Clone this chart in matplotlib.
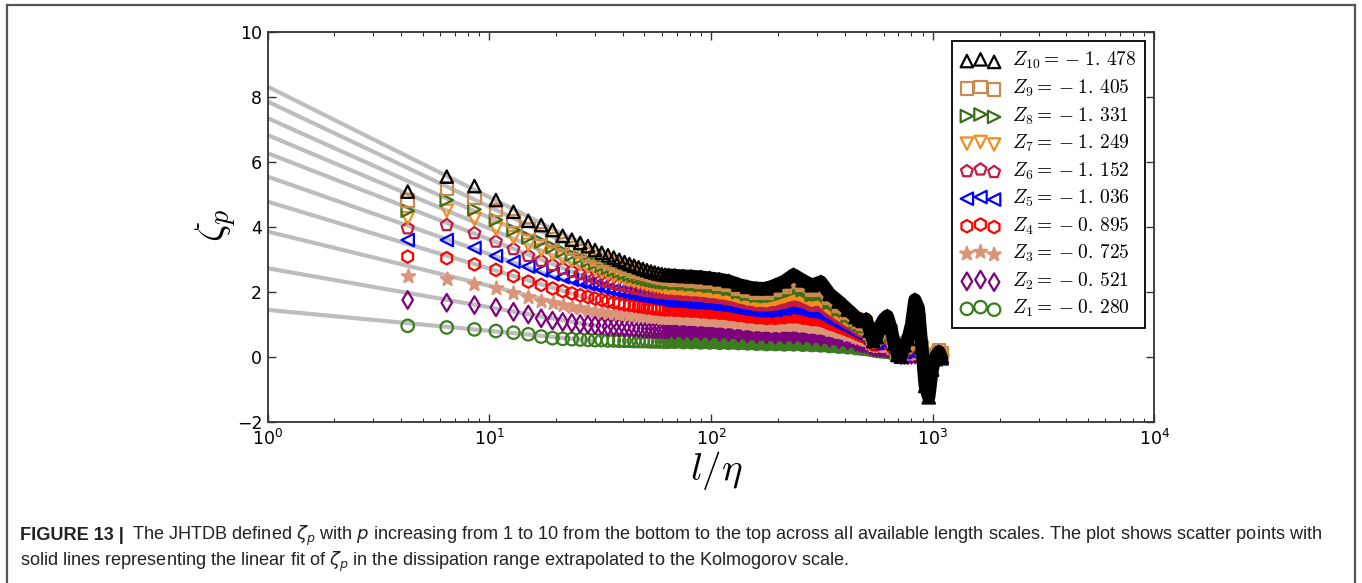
import numpy as np
import matplotlib
matplotlib.use("Agg")
import matplotlib.pyplot as plt
from matplotlib.lines import Line2D

plt.rcParams['font.family'] = ['DejaVu Sans']
plt.rcParams['mathtext.fontset'] = 'dejavusans'

# grid points (l = k * dx) and dx / eta for the JHTDB run
DX_ETA = 2.14
k_ind = list(range(2, 31))
k_mid = [32, 35, 38, 42, 46, 51, 56, 62, 68, 75, 83, 91, 100, 110, 121, 133, 146, 160, 176, 193, 210]
k_spk = [218, 226, 234, 243, 252, 261, 271, 281, 291, 302, 313, 324, 336, 348, 361, 374, 388,
         402, 417, 432, 448, 464, 481, 498, 512]

# zeta_p, for k_ind + k_mid + k_spk
zeta_p1 = [0.95, 0.90, 0.84, 0.79, 0.74, 0.69, 0.62, 0.57, 0.55, 0.54, 0.53, 0.52, 0.51, 0.51, 0.50,
           0.50, 0.49, 0.49, 0.49, 0.48, 0.48, 0.48, 0.48, 0.47, 0.47, 0.47, 0.47, 0.46, 0.46,
           0.46, 0.45, 0.45, 0.44, 0.44, 0.43, 0.43, 0.42, 0.41, 0.40, 0.39, 0.39, 0.38, 0.38, 0.37,
           0.36, 0.35, 0.33, 0.31, 0.29, 0.27,
           0.26, 0.25, 0.24, 0.22, 0.20, 0.18, 0.17, 0.16, 0.15, 0.13, 0.11, 0.08, 0.05, 0.04, 0.04,
           0.04, 0.04, 0.03, 0.01, -0.01, -0.02, -0.01, 0.00, 0.00, -0.01]
zeta_p2 = [1.745, 1.66, 1.59, 1.52, 1.38, 1.30, 1.18, 1.11, 1.07, 1.04, 1.01, 0.99, 0.97, 0.95, 0.93,
           0.92, 0.91, 0.90, 0.89, 0.88, 0.87, 0.86, 0.86, 0.85, 0.85, 0.84, 0.84, 0.83, 0.83,
           0.82, 0.81, 0.80, 0.79, 0.78, 0.77, 0.76, 0.74, 0.72, 0.70, 0.69, 0.68, 0.68, 0.68, 0.66,
           0.64, 0.62, 0.58, 0.54, 0.50, 0.46,
           0.43, 0.41, 0.40, 0.35, 0.30, 0.28, 0.27, 0.27, 0.26, 0.22, 0.17, 0.10, 0.05, 0.05, 0.05,
           0.06, 0.07, 0.05, 0.02, -0.02, -0.03, -0.01, 0.00, 0.00, -0.01]
zeta_p3 = [2.48, 2.38, 2.24, 2.12, 1.97, 1.85, 1.71, 1.64, 1.58, 1.53, 1.49, 1.45, 1.42, 1.39, 1.36,
           1.34, 1.32, 1.30, 1.28, 1.27, 1.26, 1.25, 1.24, 1.23, 1.22, 1.21, 1.20, 1.19, 1.19,
           1.18, 1.17, 1.15, 1.14, 1.12, 1.10, 1.08, 1.05, 1.02, 0.99, 0.97, 0.96, 0.97, 0.98, 0.95,
           0.91, 0.89, 0.82, 0.75, 0.68, 0.61,
           0.57, 0.54, 0.52, 0.43, 0.35, 0.33, 0.34, 0.35, 0.34, 0.28, 0.20, 0.10, 0.05, 0.07, 0.09,
           0.10, 0.12, 0.10, 0.03, -0.03, -0.05, -0.02, 0.00, 0.00, -0.02]
zeta_p4 = [3.08, 3.03, 2.84, 2.67, 2.48, 2.31, 2.21, 2.10, 2.02, 1.95, 1.89, 1.84, 1.79, 1.75, 1.71,
           1.67, 1.64, 1.61, 1.59, 1.57, 1.55, 1.53, 1.51, 1.50, 1.48, 1.47, 1.46, 1.45, 1.45,
           1.44, 1.42, 1.41, 1.39, 1.37, 1.35, 1.32, 1.28, 1.24, 1.21, 1.19, 1.19, 1.21, 1.24, 1.20,
           1.15, 1.13, 1.02, 0.92, 0.82, 0.72,
           0.67, 0.63, 0.61, 0.49, 0.38, 0.37, 0.41, 0.43, 0.42, 0.34, 0.23, 0.10, 0.05, 0.10, 0.13,
           0.16, 0.20, 0.17, 0.05, -0.04, -0.08, -0.03, 0.01, 0.01, -0.02]
zeta_p5 = [3.59, 3.59, 3.35, 3.10, 2.92, 2.77, 2.65, 2.54, 2.45, 2.37, 2.30, 2.24, 2.18, 2.13, 2.08,
           2.04, 2.00, 1.97, 1.94, 1.91, 1.88, 1.86, 1.84, 1.82, 1.80, 1.78, 1.76, 1.75, 1.73,
           1.72, 1.70, 1.68, 1.66, 1.64, 1.61, 1.58, 1.52, 1.47, 1.43, 1.41, 1.43, 1.47, 1.52, 1.47,
           1.39, 1.38, 1.22, 1.08, 0.95, 0.82,
           0.76, 0.71, 0.69, 0.54, 0.41, 0.42, 0.49, 0.53, 0.53, 0.41, 0.26, 0.10, 0.06, 0.14, 0.18,
           0.24, 0.33, 0.28, 0.08, -0.08, -0.14, -0.05, 0.02, 0.03, -0.01]
zeta_p6 = [3.95, 4.05, 3.80, 3.54, 3.31, 3.10, 2.95, 2.82, 2.71, 2.62, 2.54, 2.47, 2.41, 2.35, 2.30,
           2.25, 2.21, 2.17, 2.14, 2.11, 2.08, 2.05, 2.03, 2.01, 1.99, 1.98, 1.97, 1.96, 1.95,
           1.94, 1.92, 1.90, 1.88, 1.85, 1.82, 1.78, 1.71, 1.65, 1.60, 1.59, 1.62, 1.68, 1.75, 1.69,
           1.58, 1.59, 1.38, 1.21, 1.05, 0.90,
           0.83, 0.78, 0.76, 0.59, 0.43, 0.46, 0.57, 0.63, 0.64, 0.49, 0.29, 0.10, 0.06, 0.18, 0.24,
           0.34, 0.50, 0.42, 0.10, -0.15, -0.25, -0.08, 0.03, 0.06, 0.00]
zeta_p7 = [4.26, 4.49, 4.23, 3.93, 3.67, 3.44, 3.28, 3.16, 3.04, 2.94, 2.85, 2.76, 2.69, 2.62, 2.56,
           2.50, 2.45, 2.41, 2.37, 2.33, 2.30, 2.27, 2.24, 2.21, 2.19, 2.17, 2.15, 2.13, 2.12,
           2.11, 2.09, 2.07, 2.05, 2.02, 1.98, 1.94, 1.86, 1.79, 1.74, 1.73, 1.78, 1.86, 1.95, 1.88,
           1.75, 1.78, 1.52, 1.33, 1.15, 0.98,
           0.90, 0.85, 0.84, 0.64, 0.45, 0.50, 0.66, 0.75, 0.78, 0.58, 0.32, 0.10, 0.06, 0.22, 0.30,
           0.46, 0.72, 0.60, 0.15, -0.25, -0.40, -0.12, 0.05, 0.10, 0.02]
zeta_p8 = [4.49, 4.82, 4.53, 4.21, 3.90, 3.67, 3.54, 3.38, 3.25, 3.14, 3.04, 2.95, 2.87, 2.80, 2.73,
           2.67, 2.62, 2.57, 2.53, 2.49, 2.45, 2.42, 2.39, 2.36, 2.34, 2.32, 2.30, 2.29, 2.27,
           2.26, 2.24, 2.22, 2.20, 2.17, 2.13, 2.08, 1.99, 1.92, 1.87, 1.86, 1.93, 2.02, 2.13, 2.05,
           1.90, 1.95, 1.66, 1.45, 1.25, 1.06,
           0.98, 0.92, 0.93, 0.70, 0.48, 0.54, 0.76, 0.88, 0.92, 0.68, 0.36, 0.10, 0.06, 0.26, 0.38,
           0.60, 1.00, 0.82, 0.22, -0.40, -0.60, -0.20, 0.05, 0.15, 0.05]
zeta_p9 = [4.80, 5.18, 4.89, 4.51, 4.18, 3.93, 3.78, 3.61, 3.47, 3.35, 3.25, 3.15, 3.06, 2.98, 2.91,
           2.85, 2.79, 2.74, 2.69, 2.65, 2.61, 2.57, 2.54, 2.51, 2.48, 2.46, 2.44, 2.42, 2.40,
           2.38, 2.36, 2.34, 2.32, 2.29, 2.25, 2.20, 2.10, 2.03, 1.98, 1.98, 2.06, 2.16, 2.32, 2.20,
           2.05, 2.12, 1.80, 1.57, 1.35, 1.14,
           1.06, 1.00, 1.02, 0.75, 0.50, 0.58, 0.85, 1.00, 1.05, 0.78, 0.40, 0.10, 0.05, 0.30, 0.45,
           0.75, 1.30, 1.10, 0.30, -0.60, -0.90, -0.30, 0.05, 0.20, 0.10]
zeta_p10 = [5.08, 5.54, 5.25, 4.82, 4.46, 4.18, 4.05, 3.90, 3.72, 3.60, 3.50, 3.40, 3.28, 3.20, 3.12,
            3.05, 2.98, 2.91, 2.85, 2.80, 2.75, 2.70, 2.66, 2.62, 2.59, 2.56, 2.54, 2.52, 2.51,
            2.50, 2.48, 2.47, 2.45, 2.42, 2.38, 2.33, 2.22, 2.15, 2.10, 2.10, 2.20, 2.32, 2.52, 2.35,
            2.20, 2.30, 1.93, 1.70, 1.45, 1.22,
            1.15, 1.10, 1.15, 0.80, 0.48, 0.60, 0.95, 1.15, 1.25, 0.90, 0.40, 0.05, 0.00, 0.35, 0.55,
            0.95, 1.75, 1.50, 0.30, -0.90, -1.25, -0.40, 0.00, 0.15, -0.05]

# linear fit in the dissipation range: zeta = a + Z ln(l/eta)
fit_a = [1.44, 2.72, 3.85, 4.77, 5.54, 6.26, 6.82, 7.34, 7.85, 8.31]
fit_Z = [-0.280, -0.521, -0.725, -0.895, -1.036, -1.152, -1.249, -1.331, -1.405, -1.478]
fit_end = 30.0

series = [zeta_p1, zeta_p2, zeta_p3, zeta_p4, zeta_p5, zeta_p6, zeta_p7, zeta_p8, zeta_p9, zeta_p10]
markers = ['o', 'd', '*', 'h', '<', 'p', 'v', '>', 's', '^']
colors = ['#3b7d1e', '#7d007d', '#dc9478', '#ff0000', '#0000ff', '#c31a44', '#f28e1c',
          '#3c6e18', '#c98a4b', '#000000']

l_eta = np.array(k_ind + k_mid + k_spk) * DX_ETA
n_ind = len(k_ind) - 1  # band of dense points starts at k = 30

fig = plt.figure(figsize=(13.62, 5.83), dpi=100)
ax = fig.add_axes([0.19655, 0.27667, 0.6511, 0.66896])

xf = np.array([1.0, fit_end])
for a, Z in zip(fit_a, fit_Z):
    ax.plot(xf, a + Z * np.log(xf), color='#bdbdbd', lw=3.0, zorder=1, solid_capstyle='butt')

handles = []
for i, (vals, m, c) in enumerate(zip(series, markers, colors)):
    vals = np.array(vals)
    z = 3 + 0.1 * i
    ax.plot(l_eta[n_ind:], vals[n_ind:], color=c, lw=9.5, zorder=z,
            solid_joinstyle='round', solid_capstyle='round')
    fc = c if m == '*' else 'none'
    sz = 100 if m == '*' else 80
    h = ax.scatter(l_eta, vals, s=sz, marker=m, facecolors=fc, edgecolors=c,
                   linewidths=1.6, zorder=z + 0.05)
    handles.append(h)

ax.set_xscale('log')
ax.set_xlim(1, 1e4)
ax.set_ylim(-2, 10)
ax.set_yticks([-2, 0, 2, 4, 6, 8, 10])
ax.tick_params(which='both', direction='in', top=True, right=True, labelsize=12.5,
               color='#333333', pad=4)
ax.tick_params(axis='x', pad=5)
ax.tick_params(which='major', length=5.5, width=1.0)
ax.tick_params(which='minor', length=3, width=0.8)
for sp in ax.spines.values():
    sp.set_color('#333333')
    sp.set_linewidth(1.3)

labels = [r'$Z_{%d} =\, {-}\; %s$' % (p, ('%.3f' % -Z).replace('.', '.\\,'))
          for p, Z in zip(range(1, 11), fit_Z)]
leg = ax.legend(handles[::-1], labels[::-1], loc='upper right', scatterpoints=3,
                fontsize=14, frameon=True, fancybox=False, framealpha=1,
                edgecolor='black', labelspacing=0.32, handlelength=2.0,
                handletextpad=0.6, borderpad=0.45, borderaxespad=0.5)
leg.get_frame().set_linewidth(1.3)
for t in leg.get_texts():
    t.set_math_fontfamily('cm')

fig.text(716 / 1362, 1 - 471 / 583, r'$l/\eta$', fontsize=28, ha='center', va='center',
         math_fontfamily='cm')
fig.text(216 / 1362, 1 - 225 / 583, r'$\zeta_p$', fontsize=29, ha='center', va='center',
         rotation=90, math_fontfamily='cm')

# frame round the figure and caption
for xs, ys in [([7, 1355], [5, 5]), ([7, 7], [5, 583]), ([1355, 1355], [5, 583])]:
    fig.add_artist(Line2D([x / 1362 for x in xs], [1 - y / 583 for y in ys],
                          transform=fig.transFigure, color='#555555', lw=1.6))

cap1a = 'FIGURE 13 |'
cap1b = (r' The JHTDB defined $\zeta_p$ with $p$ increasing from 1 to 10 from the bottom to the top'
         r' across all available length scales. The plot shows scatter points with')
cap2 = (r'solid lines representing the linear fit of $\zeta_p$ in the dissipation range'
        r' extrapolated to the Kolmogorov scale.')
capfont = ['Liberation Sans', 'DejaVu Sans']
x0, target_right = 20, 1320


def draw_caption(fs):
    t1 = fig.text(x0 / 1362, 1 - 540 / 583, cap1a, fontsize=fs, fontweight='bold', family=capfont,
                  color='#222222', va='baseline')
    fig.canvas.draw()
    bb = t1.get_window_extent()
    t2 = fig.text((bb.x1 + 3) / 1362, 1 - 540 / 583, cap1b, fontsize=fs, family=capfont,
                  color='#222222', va='baseline', math_fontfamily='dejavusans')
    t3 = fig.text(x0 / 1362, 1 - 566 / 583, cap2, fontsize=fs, family=capfont,
                  color='#222222', va='baseline', math_fontfamily='dejavusans')
    fig.canvas.draw()
    return [t1, t2, t3], t2.get_window_extent().x1


texts, right = draw_caption(11.0)
fs = 11.0 * (target_right - x0) / (right - x0)
for t in texts:
    t.remove()
draw_caption(fs)

fig.savefig('out.png', dpi=100)
